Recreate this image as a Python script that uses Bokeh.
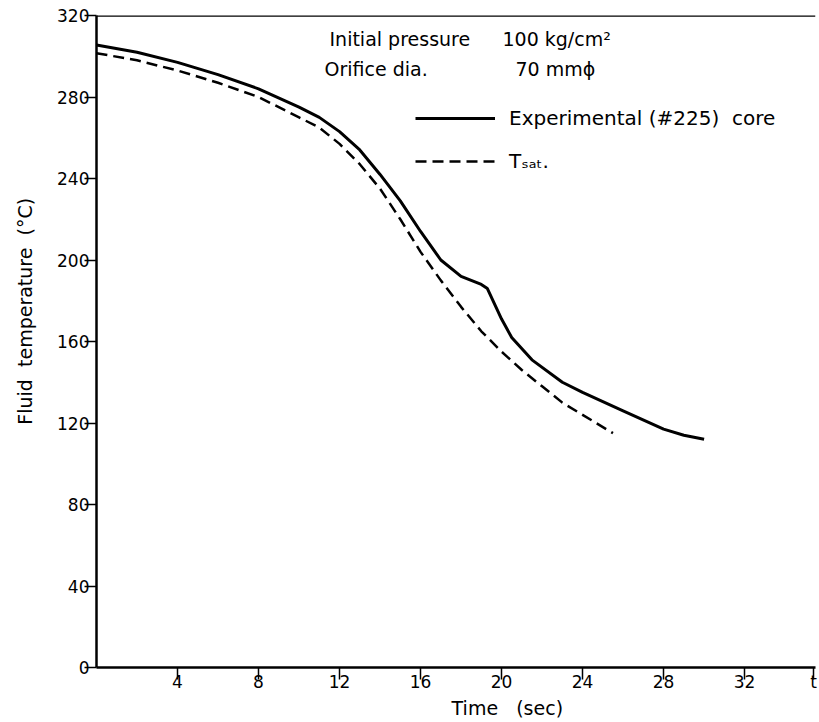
from bokeh.plotting import figure
from bokeh.models import (Range1d, FixedTicker, Label, Legend, LegendItem, Span)
from bokeh.embed import file_html
from bokeh.resources import INLINE

FONT = "DejaVu Sans"
NB = "\u00a0"

# Experimental (#225) core fluid temperature
exp_t = [0, 2, 4, 6, 8, 10, 11, 12, 13, 14, 15, 16, 17, 18, 19, 19.3, 20, 20.5, 21.5, 23, 24, 26, 28, 29, 30]
exp_T = [305.5, 302, 297, 291, 284, 275, 270, 263, 254, 242, 229, 214, 200, 192, 188, 186, 171, 162, 151, 140, 135, 126, 117, 114, 112]

# Saturation temperature
sat_t = [0, 2, 4, 6, 8, 10, 11, 12, 13, 14, 15, 16, 17, 18, 19, 20, 21, 22, 23, 24, 25.5]
sat_T = [301.5, 298, 293, 287, 280, 270, 265, 257, 247, 235, 220, 204, 190, 177, 165, 155, 146, 138, 130, 124, 115]

x_ticks = [4, 8, 12, 16, 20, 24, 28, 32, 35.4]
x_tick_labels = {35.4: "t"}
y_ticks = [0, 40, 80, 120, 160, 200, 240, 280, 320]

p = figure(width=819, height=722, output_backend="svg", toolbar_location=None,
           x_range=Range1d(0, 35.5), y_range=Range1d(0, 320),
           min_border_left=96, min_border_right=4, min_border_top=15, min_border_bottom=55)
p.outline_line_color = None
p.grid.visible = False
p.background_fill_color = "white"
p.border_fill_color = "white"

for ax in (p.xaxis[0], p.yaxis[0]):
    ax.axis_line_width = 2.5
    ax.axis_line_color = "black"
    ax.major_tick_in = 0
    ax.major_tick_out = 12
    ax.major_tick_line_width = 1.5
    ax.minor_tick_line_color = None
    ax.major_label_text_font = FONT
    ax.major_label_text_font_size = "17px"
    ax.major_label_text_color = "black"
    ax.axis_label_text_font = FONT
    ax.axis_label_text_font_size = "19px"
    ax.axis_label_text_font_style = "normal"
    ax.axis_label_text_color = "black"

p.xaxis[0].ticker = FixedTicker(ticks=x_ticks)
p.xaxis[0].major_label_overrides = x_tick_labels
p.yaxis[0].ticker = FixedTicker(ticks=y_ticks)
p.xaxis[0].axis_label = NB * 17 + "Time" + NB * 3 + "(sec)"
p.yaxis[0].axis_label = NB * 10 + "Fluid" + NB * 2 + "temperature" + NB * 2 + "(°C)"
p.xaxis[0].major_label_standoff = -8
p.yaxis[0].major_label_standoff = -5
p.yaxis[0].axis_label_standoff = 18
p.xaxis[0].axis_label_standoff = 2

p.add_layout(Span(location=320, dimension="width", line_color="black", line_width=2.5))

r_exp = p.line(exp_t, exp_T, line_color="black", line_width=3)
r_sat = p.line(sat_t, sat_T, line_color="black", line_width=2.5, line_dash="11 6")

legend = Legend(items=[LegendItem(label="Experimental (#225)  core", renderers=[r_exp]),
                       LegendItem(label="Tₛₐₜ.", renderers=[r_sat])],
                location=(319, 494), padding=0, spacing=19, glyph_width=80, glyph_height=20,
                label_height=20, label_standoff=14, border_line_color=None,
                background_fill_alpha=0, label_text_font=FONT, label_text_font_size="20px",
                label_text_color="black")
p.add_layout(legend, "center")

common = dict(x_units="screen", y_units="screen", text_font=FONT, text_font_size="19px",
              text_color="black", text_baseline="middle")
p.add_layout(Label(x=233, y=667 - 38, text="Initial  pressure", **common))
p.add_layout(Label(x=406, y=667 - 38, text="100  kg/cm²", **common))
p.add_layout(Label(x=228, y=667 - 68, text="Orifice  dia.", **common))
p.add_layout(Label(x=419, y=667 - 68, text="70  mmϕ", **common))

open("out.html", "w").write(file_html(p, INLINE))
